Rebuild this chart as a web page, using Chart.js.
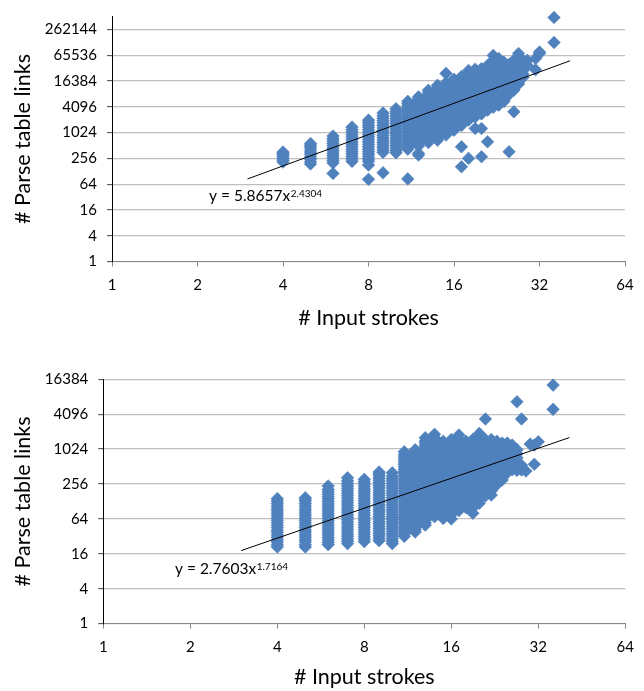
<!DOCTYPE html>
<html><head><meta charset="utf-8">
<script src="https://cdn.jsdelivr.net/npm/chart.js@4.4.1/dist/chart.umd.min.js"></script>
<style>
html,body{margin:0;padding:0;background:#fff;}
#wrap{position:relative;width:644px;height:691px;font-family:Lato;}
#c1{position:absolute;left:0;top:0;}
#c2{position:absolute;left:0;top:340px;}
</style></head><body>
<div id="wrap"><canvas id="c1" width="644" height="340"></canvas><canvas id="c2" width="644" height="351"></canvas></div>
<script>
// ---- tick labels ----
const strokeTicks = [1, 2, 4, 8, 16, 32, 64];
const topLinkTicks = [1, 4, 16, 64, 256, 1024, 4096, 16384, 65536, 262144];
const bottomLinkTicks = [1, 4, 16, 64, 256, 1024, 4096, 16384];

// ---- top chart: # parse table links per # input strokes ----
const topStrokes = [4,5,6,7,8,9,10,11,12,13,14,15,16,17,18,19,20,21,22,23,24,25,26,27,28,29,31,32,36];
const topLinks = [
  [210,232,256,283,312,340,360],
  [190,215,245,280,318,362,412,470,520,570],
  [114,200,228,260,296,337,384,438,500,570,650,740,850],
  [218,248,283,322,367,418,477,543,619,706,805,917,1045,1190,1380],
  [83,179,218,248,283,322,367,418,477,543,619,706,805,917,1045,1190,1357,1547,1760,2000],
  [118,354,404,460,525,598,682,777,886,1010,1150,1312,1496,1705,1944,2216,2526,2950],
  [345,393,448,511,582,664,757,863,983,1121,1278,1457,1661,1893,2158,2460,2805,3200,3700],
  [85,420,475,536,606,685,774,875,988,1117,1262,1426,1611,1821,2057,2325,2627,2968,3354,3790,4283,4840,5500],
  [306,335,500,565,638,721,815,921,1041,1176,1329,1502,1697,1918,2167,2449,2767,3127,3533,3993,4512,5098,5761,6300,7000],
  [600,678,766,866,978,1105,1249,1411,1595,1802,2036,2301,2600,2938,3320,3752,4240,4791,5413,6117,6912,7811,8826,10000],
  [685,774,875,988,1117,1262,1426,1611,1821,2057,2325,2627,2968,3354,3790,4283,4840,5469,6180,6983,7891,8917,10076,11386,13000],
  [900,1080,1296,1555,1866,2239,2687,3225,3870,4644,5572,6687,8024,9629,11555,13000,15000,24700],
  [1170,1404,1685,2022,2426,2912,3494,4193,5031,6037,7245,8694,10433,12519,15023,18000],
  [163,477,1500,1800,2160,2592,3110,3732,4479,5375,6450,7740,9288,11145,13374,16049,19000,21000],
  [256,2000,2400,2880,3456,4147,4977,5972,7166,8600,10320,12383,14860,17832,21399,25000,29000],
  [1280,2370,2844,3413,4096,4915,5898,7077,8493,10192,12230,14676,17611,21133,25360,31000],
  [280,1280,2800,3360,4032,4838,5806,6967,8361,10033,12039,14447,17337,20804,24965,29000,32000],
  [625,3430,4116,4939,5927,7112,8535,10242,12290,14748,17698,21237,25485,30582,38000],
  [4000,4800,5760,6912,8294,9953,11944,14333,17199,20639,24767,29720,35664,42797,51000,65000],
  [4500,5400,6480,7776,9331,11197,13437,16124,19349,23219,27862,33435,40122,48000,55000],
  [5500,6600,7920,9504,11405,13686,16423,19707,23649,28379,34055,40000,45000],
  [365,8000,9600,11520,13824,16589,19907,23888,28665,34398,40000],
  [3130,10000,12000,14400,17280,20736,24883,29860,35832,43000,50000],
  [14000,16800,20160,24192,29030,34836,41804,50164,60000,72000],
  [20000,24000,28800,34560,41472,50000],
  [38000,50000],
  [30000,55000],
  [72000,78000],
  [130000,500000]
];
const topFit = [5.8657, 2.4304];

// ---- bottom chart ----
const bottomStrokes = [4,5,6,7,8,9,10,11,12,13,14,15,16,17,18,19,20,21,22,23,24,25,26,27,28,29,30,31,32,36];
const bottomLinks = [
  [21,23,25.5,28,31,34,37.5,41,45.5,50,55,60.5,66.5,73,80.5,88.5,97,107,118,130,143],
  [21,23,25.5,28,31,34,37.5,41,45.5,50,55,60.5,66.5,73,80.5,88.5,97,107,118,130,140,148],
  [23,25.3,27.8,30.6,33.7,37,40.7,44.8,49.3,54.2,59.6,65.6,72.2,79.4,87.3,96,106,116,128,141,155,170,187,206,237],
  [24,26.4,29,32,35.2,38.7,42.6,46.8,51.5,56.7,62.3,68.6,75.4,83,91.3,100,110,121,133,147,162,178,196,215,237,260,290,329],
  [26,28.6,31.5,34.6,38,41.9,46,50.6,55.7,61.3,67.4,74.1,81.5,89.7,98.7,108.6,119.4,131,144.5,159,175,192,211,232,256,281,308],
  [27,29.7,32.7,36,39.6,43.5,47.8,52.6,57.9,63.7,70,77,84.7,93.2,102.5,112.8,124,136.4,150,165,181.6,199.8,219.8,241.8,266,292.6,321.8,354,383,413],
  [24,26.4,29,32,35.2,38.7,42.6,46.8,51.5,56.7,62.3,68.6,75.4,83,91.3,100.4,110.5,121.5,133.6,147,161.7,177.9,195.7,215.2,236.8,260.5,286.5,315,346.7,400],
  [32,35.2,38.7,42.6,46.8,51.5,56.7,62.3,68.6,75.4,83,91.3,100.4,110.5,121.5,133.6,147,161.7,177.9,195.7,215.2,236.8,260.5,286.5,315,346.7,381.4,419.5,461.5,507.6,558.4,614.2,675.6,743.2,817.5,923],
  [38,41.8,46,50.6,55.6,61.2,67.3,74,81.5,89.6,98.6,108.4,119.3,131.2,144.3,158.7,174.6,192.1,211.3,232.4,255.7,281.2,309.3,340.3,374.3,411.7,452.9,498.2,548,602.8,663.1,729.4,802.4,882.6,1000],
  [50,55,60.5,66.6,73.2,80.5,88.6,97.4,107.2,117.9,129.7,142.7,156.9,172.6,189.9,208.9,229.8,252.7,278,305.8,336.4,370,407,447.7,492.5,541.7,595.9,655.5,721,793.1,872.5,959.7,1056,1161,1277,1405,1610],
  [70,82.6,97.5,115,135.7,160.1,189,223,263,310.4,366.3,432.2,510,601.8,710,838,988.8,1167,1377,1600,1840],
  [65,76.7,90.5,106.8,126,148.7,175.4,207,244.3,288.2,340,401.3,473.6,558.8,659.4,778,918,1083,1250,1400],
  [64,75.5,89.1,105.2,124.1,146.4,172.8,203.9,240.6,283.9,335,395.3,466.4,550.4,649.4,766.3,904.3,1067,1259,1500],
  [89,105,123.9,146.2,172.5,203.6,240.3,283.5,334.5,394.8,465.8,549.7,648.6,765.4,903.1,1066,1258,1484,1790],
  [100,118,139.2,164.3,193.9,228.8,270,318.6,375.9,443.6,523.4,617.7,728.8,860,1015,1198,1400],
  [80,100,120,141.6,167.1,197.2,232.7,274.5,324,382.3,451.1,532.3,628.1,741.2,874.6,1032,1218,1500],
  [119,140.4,165.7,195.5,230.7,272.2,321.2,379,447.3,527.8,622.8,734.9,867.1,1023,1207,1425,1650,1910],
  [160,188.8,222.8,262.9,310.2,366,431.9,509.7,601.4,709.7,837.4,988.2,1166,1376,1490,3390],
  [165,194.7,229.7,271.1,319.9,377.4,445.4,525.5,620.1,731.8,863.5,1019,1202,1400,1500],
  [250,295,348.1,410.8,484.7,572,675,796.4,939.8,1109,1250,1400],
  [300,354,417.7,492.9,581.6,686.3,809.9,955.6,1128,1300],
  [400,472,557,657.2,775.5,915,1080,1300],
  [450,531,626.6,739.4,872.5,1030,1200],
  [440,519,612.7,723,853,1000,6700],
  [446,540,3390],
  [428],
  [1250],
  [560,1200],
  [1370],
  [4970,13000]
];
const bottomFit = [2.7603, 1.7164];

// trendline extent (strokes)
const fitRange = [3, 41];

const eqPlugin = {
  id: 'eq',
  afterDatasetsDraw(chart, args, o) {
    const ctx = chart.ctx, xs = chart.scales.x, ys = chart.scales.y;
    const px = xs.getPixelForValue(o.at[0]), py = ys.getPixelForValue(o.at[1]);
    ctx.save();
    ctx.fillStyle = '#000';
    ctx.textAlign = 'left';
    ctx.textBaseline = 'alphabetic';
    ctx.font = '15.5px Lato';
    ctx.fillText(o.main, px, py);
    const w = ctx.measureText(o.main).width;
    ctx.font = '10px Lato';
    ctx.fillText(o.sup, px + w + 0.5, py - 4.5);
    ctx.restore();
  }
};

function makeChart(id, strokes, links, fit, yTicks, yMax, area, eqAt) {
  const pts = [];
  strokes.forEach((s, i) => links[i].forEach(v => pts.push({x: s, y: v})));
  const trend = fitRange.map(x => ({x: x, y: fit[0] * Math.pow(x, fit[1])}));
  const canvas = document.getElementById(id);
  const H = canvas.height;
  return new Chart(canvas, {
    type: 'scatter',
    data: {datasets: [
      {data: trend, showLine: true, borderColor: '#000', borderWidth: 1, pointRadius: 0, order: 0, clip: false},
      {data: pts, pointStyle: 'rectRot', pointRadius: 6.3, backgroundColor: '#4F81BD', borderColor: '#4F81BD', borderWidth: 0.6, order: 1, clip: false}
    ]},
    options: {
      responsive: false, animation: false, events: [],
      layout: {padding: {left: 0, top: area.top, right: 644 - area.right, bottom: 0}},
      plugins: {legend: {display: false}, tooltip: {enabled: false},
        eq: {at: eqAt, main: 'y = ' + fit[0] + 'x', sup: String(fit[1])}},
      scales: {
        x: {
          type: 'logarithmic', min: 1, max: 64, position: 'bottom',
          afterBuildTicks: s => { s.ticks = strokeTicks.map(v => ({value: v})); },
          afterFit: s => { s.height = H - area.bottom; s.paddingLeft = 0; s.paddingRight = 0; },
          ticks: {callback: v => String(v), font: {family: 'Lato', size: 15}, color: '#000', padding: 9.5, maxRotation: 0, autoSkip: false},
          grid: {drawOnChartArea: false, drawTicks: true, tickLength: 5, tickColor: '#868686', tickWidth: 1},
          border: {color: '#868686', width: 1},
          title: {display: true, text: '# Input strokes', font: {family: 'Lato', size: 21.5}, color: '#000', padding: {top: 0, bottom: area.xTitlePad}}
        },
        y: {
          type: 'logarithmic', min: 1, max: yMax,
          afterBuildTicks: s => { s.ticks = yTicks.map(v => ({value: v})); },
          afterFit: s => { s.width = area.left; s.paddingTop = 0; s.paddingBottom = 0; },
          ticks: {callback: v => String(v), font: {family: 'Lato', size: 15}, color: '#000', padding: 10, autoSkip: false},
          grid: {color: '#bfbfbf', lineWidth: 1.3, drawTicks: true, tickLength: 5, tickColor: '#404040', tickWidth: 1},
          border: {color: '#000', width: 1},
          title: {display: true, text: '# Parse table links', font: {family: 'Lato', size: 21.5}, color: '#000', padding: {top: 10.4, bottom: 0}}
        }
      }
    },
    plugins: [eqPlugin]
  });
}

function draw() {
  makeChart('c1', topStrokes, topLinks, topFit, topLinkTicks, 524288,
    {left: 112, right: 625, top: 16.6, bottom: 261.5, xTitlePad: 9.4}, [2.195, 25.8]);
  makeChart('c2', bottomStrokes, bottomLinks, bottomFit, bottomLinkTicks, 16384,
    {left: 103.3, right: 625.3, top: 39.3, bottom: 283.6, xTitlePad: 1.4}, [1.77, 7.09]);
}
if (document.fonts && document.fonts.load) {
  Promise.all([document.fonts.load('15px Lato'), document.fonts.load('21px Lato')]).then(draw, draw);
} else { draw(); }
</script>
</body></html>
